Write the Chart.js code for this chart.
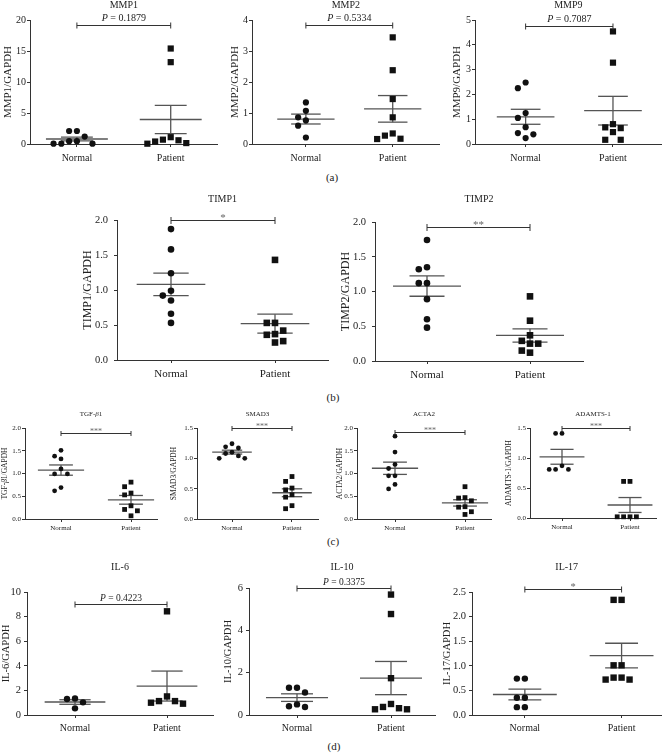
<!DOCTYPE html>
<html>
<head>
<meta charset="utf-8">
<script src="https://cdn.jsdelivr.net/npm/chart.js@4/dist/chart.umd.min.js"></script>
<style>
  body { margin: 0; background: #fff; width: 666px; height: 753px; position: relative; overflow: hidden;
         font-family: "Liberation Serif", "Times New Roman", serif; }
  canvas { position: absolute; }
  .lab { position: absolute; font-size: 11px; color: #222; transform: translate(-50%, -50%); }
</style>
</head>
<body>
<div class="lab" style="left:332px;top:177px">(a)</div>
<div class="lab" style="left:333px;top:397px">(b)</div>
<div class="lab" style="left:333px;top:541px">(c)</div>
<div class="lab" style="left:334px;top:746px">(d)</div>
<script>
const categories = ['Normal', 'Patient'];

// values (relative expression / GAPDH)
const mmp1Normal = [2.1, 2.1, 1.2, 0.45, 0.45, 0.05, 0.05, 0.05];
const mmp1Patient = [15.4, 13.2, 1.1, 0.7, 0.6, 0.4, 0.15, 0.05];
const mmp2Normal = [1.34, 1.07, 0.86, 0.76, 0.59, 0.21];
const mmp2Patient = [3.44, 2.38, 1.45, 0.86, 0.34, 0.27, 0.17, 0.16];
const mmp9Normal = [2.48, 2.25, 1.25, 1.05, 0.68, 0.44, 0.39, 0.24];
const mmp9Patient = [4.54, 3.28, 0.80, 0.67, 0.64, 0.48, 0.17, 0.17];
const timp1Normal = [1.87, 1.58, 1.24, 0.99, 0.92, 0.85, 0.66, 0.53];
const timp1Patient = [1.43, 0.53, 0.53, 0.42, 0.37, 0.36, 0.27, 0.25];
const timp2Normal = [1.74, 1.35, 1.32, 1.12, 1.12, 0.89, 0.60, 0.48];
const timp2Patient = [0.93, 0.58, 0.37, 0.29, 0.25, 0.25, 0.15, 0.12];
const tgfNormal = [1.51, 1.38, 1.32, 1.10, 0.99, 0.99, 0.69, 0.62];
const tgfPatient = [0.81, 0.71, 0.57, 0.53, 0.29, 0.21, 0.18, 0.07];
const smad3Normal = [1.24, 1.19, 1.17, 1.10, 1.08, 1.04, 1.00, 1.00];
const smad3Patient = [0.70, 0.62, 0.51, 0.48, 0.40, 0.36, 0.22, 0.17];
const acta2Normal = [1.82, 1.47, 1.20, 1.11, 0.95, 0.95, 0.76, 0.66];
const acta2Patient = [0.71, 0.47, 0.46, 0.40, 0.27, 0.26, 0.16, 0.10];
const adamtsNormal = [1.41, 1.41, 0.87, 0.81, 0.81, 0.81];
const adamtsPatient = [0.61, 0.61, 0.02, 0.02, 0.02, 0.02];
const il6Normal = [1.35, 1.30, 1.03, 0.54];
const il6Patient = [8.43, 1.51, 1.13, 1.13, 1.00, 0.92];
const il10Normal = [1.29, 1.29, 1.06, 0.50, 0.41, 0.38];
const il10Patient = [5.69, 4.77, 1.74, 0.52, 0.38, 0.32, 0.27, 0.27];
const il17Normal = [0.74, 0.74, 0.35, 0.35, 0.16, 0.16];
const il17Patient = [2.34, 2.34, 1.01, 1.01, 0.76, 0.76, 0.72, 0.72];

// y tick labels
const mmp1Ticks = [0, 5, 10, 15, 20];
const mmp2Ticks = [0, 1, 2, 3, 4];
const mmp9Ticks = [0, 1, 2, 3, 4, 5];
const timpTicks = [0, 0.5, 1, 1.5, 2];
const ctgf2Ticks = [0, 0.5, 1, 1.5, 2];
const c15Ticks = [0, 0.5, 1, 1.5];
const il6Ticks = [0, 2, 4, 6, 8, 10];
const il10Ticks = [0, 2, 4, 6];
const il17Ticks = [0, 0.5, 1, 1.5, 2, 2.5];

const FONT = '"Liberation Serif", "Times New Roman", serif';

const rows = {
  a: { top: 0, bottom: 166, r: 3.1, tick: 10, cat: 10, title: 10, yt: 11, stat: 10, titleY: 8, cap: 3, pGap: 5, tickPad: 1, catPad: 5 },
  b: { top: 188, bottom: 385, r: 3.3, tick: 10.5, cat: 11, title: 10, yt: 12, stat: 10, titleY: 202, cap: 3.5, pGap: 5, tickPad: 6, catPad: 5 },
  c: { top: 405, bottom: 535, r: 2.4, tick: 7, cat: 7, title: 7, yt: 7.5, stat: 7, titleY: 416, cap: 2.5, pGap: 3, tickPad: 1, catPad: 2 },
  d: { top: 557, bottom: 737, r: 3.2, tick: 10.5, cat: 10, title: 10, yt: 10.5, stat: 9.5, titleY: 570, cap: 3, pGap: 4, tickPad: 3, catPad: 4 },
};

const panels = [
  { row: 'a', box: [0, 222], L: 30, R: 218, T: 20, B: 144, N: 77, P: 171, data: [mmp1Normal, mmp1Patient], ticks: mmp1Ticks, dec: 0,
    title: 'MMP1', yTitle: 'MMP1/GAPDH', yTitleX: 8, stat: '~P~ = 0.1879', bracket: 19.2 },
  { row: 'a', box: [222, 444], L: 252, R: 440, T: 20, B: 144, N: 306, P: 393, data: [mmp2Normal, mmp2Patient], ticks: mmp2Ticks, dec: 0,
    title: 'MMP2', yTitle: 'MMP2/GAPDH', yTitleX: 235, stat: '~P~ = 0.5334', bracket: 3.84 },
  { row: 'a', box: [444, 666], L: 475, R: 663, T: 20, B: 144, N: 526, P: 614, data: [mmp9Normal, mmp9Patient], ticks: mmp9Ticks, dec: 0,
    title: 'MMP9', yTitle: 'MMP9/GAPDH', yTitleX: 457, stat: '~P~ = 0.7087', bracket: 4.76 },
  { row: 'b', box: [70, 333], L: 117, R: 328, T: 220, B: 360, N: 171, P: 275, data: [timp1Normal, timp1Patient], ticks: timpTicks, dec: 1,
    title: 'TIMP1', yTitle: 'TIMP1/GAPDH', yTitleX: 88, stat: '*', bracket: 2.0 },
  { row: 'b', box: [333, 600], L: 375, R: 583, T: 222, B: 361, N: 427, P: 530, data: [timp2Normal, timp2Patient], ticks: timpTicks, dec: 1,
    title: 'TIMP2', yTitle: 'TIMP2/GAPDH', yTitleX: 346, stat: '**', bracket: 1.93 },
  { row: 'c', box: [0, 166], L: 25, R: 157, T: 428, B: 519, N: 61, P: 131, data: [tgfNormal, tgfPatient], ticks: ctgf2Ticks, dec: 1,
    title: 'TGF-~β~1', yTitle: 'TGF-~β~1/GAPDH', yTitleX: 5, stat: '***', bracket: 1.88 },
  { row: 'c', box: [166, 333], L: 197, R: 318, T: 428, B: 519, N: 232, P: 292, data: [smad3Normal, smad3Patient], ticks: c15Ticks, dec: 1,
    title: 'SMAD3', yTitle: 'SMAD3/GAPDH', yTitleX: 174, stat: '***', bracket: 1.5 },
  { row: 'c', box: [333, 500], L: 357, R: 491, T: 428, B: 519, N: 395, P: 465, data: [acta2Normal, acta2Patient], ticks: ctgf2Ticks, dec: 1,
    title: 'ACTA2', yTitle: 'ACTA2/GAPDH', yTitleX: 340, stat: '***', bracket: 1.92 },
  { row: 'c', box: [500, 666], L: 530, R: 656, T: 428, B: 518, N: 562, P: 630, data: [adamtsNormal, adamtsPatient], ticks: c15Ticks, dec: 1,
    title: 'ADAMTS-1', yTitle: 'ADAMTS-1/GAPDH', yTitleX: 509, stat: '***', bracket: 1.5 },
  { row: 'd', box: [0, 222], L: 27, R: 213, T: 592, B: 715, N: 75, P: 167, data: [il6Normal, il6Patient], ticks: il6Ticks, dec: 0,
    title: 'IL-6', yTitle: 'IL-6/GAPDH', yTitleX: 6, stat: '~P~ = 0.4223', bracket: 9.0 },
  { row: 'd', box: [222, 444], L: 249, R: 435, T: 588, B: 715, N: 297, P: 391, data: [il10Normal, il10Patient], ticks: il10Ticks, dec: 0,
    title: 'IL-10', yTitle: 'IL-10/GAPDH', yTitleX: 228, stat: '~P~ = 0.3375', bracket: 6.0 },
  { row: 'd', box: [438, 666], L: 472, R: 662, T: 592, B: 715, N: 525, P: 622, data: [il17Normal, il17Patient], ticks: il17Ticks, dec: 1,
    title: 'IL-17', yTitle: 'IL-17/GAPDH', yTitleX: 447, stat: '*', bracket: 2.56 },
];

// text with ~italic~ parts
function richText(ctx, text, x, y, size, color) {
  const parts = text.split('~');
  const fonts = parts.map((t, i) => (i % 2 ? 'italic ' : '') + size + 'px ' + FONT);
  const widths = parts.map((t, i) => { ctx.font = fonts[i]; return ctx.measureText(t).width; });
  let cx = x - widths.reduce((a, b) => a + b, 0) / 2;
  ctx.fillStyle = color;
  ctx.textAlign = 'left';
  parts.forEach((t, i) => { ctx.font = fonts[i]; ctx.fillText(t, cx, y); cx += widths[i]; });
}

const panelText = {
  id: 'panelText',
  afterDraw(chart, args, o) {
    const ctx = chart.ctx, xs = chart.scales.x, ys = chart.scales.y, ca = chart.chartArea;
    ctx.save();
    ctx.textBaseline = 'alphabetic';
    richText(ctx, o.title, (ca.left + ca.right) / 2, o.titleY, o.titleSize, '#222');

    ctx.save();
    ctx.translate(o.yTitleX, (ca.top + ca.bottom) / 2);
    ctx.rotate(-Math.PI / 2);
    ctx.textBaseline = 'middle';
    richText(ctx, o.yTitle, 0, 0, o.yTitleSize, '#222');
    ctx.restore();

    const x1 = xs.getPixelForValue(1), x2 = xs.getPixelForValue(2);
    const yb = Math.round(ys.getPixelForValue(o.bracket)) + 0.5;
    ctx.strokeStyle = '#333';
    ctx.lineWidth = 1;
    ctx.beginPath();
    ctx.moveTo(x1, yb); ctx.lineTo(x2, yb);
    ctx.moveTo(x1, yb - o.cap); ctx.lineTo(x1, yb + o.cap);
    ctx.moveTo(x2, yb - o.cap); ctx.lineTo(x2, yb + o.cap);
    ctx.stroke();
    const isP = o.stat.indexOf('P') >= 0;
    ctx.textBaseline = 'alphabetic';
    richText(ctx, o.stat, (x1 + x2) / 2, yb - (isP ? o.pGap : 0), isP ? o.statSize : o.statSize + 1, isP ? '#222' : '#666');
    ctx.restore();
  }
};

// beeswarm offsets in px, columns tried 0, -1, +1, -2, +2 ...
function swarm(values, pxPerUnit, s) {
  const order = values.map((v, i) => i).sort((a, b) => values[b] - values[a]);
  const placed = [];
  const off = new Array(values.length);
  order.forEach(i => {
    const yp = values[i] * pxPerUnit;
    for (let k = 0; k < 40; k++) {
      const c = k === 0 ? 0 : (k % 2 ? -Math.ceil(k / 2) : k / 2);
      if (!placed.some(q => q.c === c && Math.abs(q.y - yp) < s)) {
        placed.push({ c, y: yp });
        off[i] = c * s;
        break;
      }
    }
  });
  return off;
}

function meanSem(v) {
  const n = v.length;
  const m = v.reduce((a, b) => a + b, 0) / n;
  const sd = Math.sqrt(v.reduce((a, b) => a + (b - m) * (b - m), 0) / (n - 1));
  return [m, sd / Math.sqrt(n)];
}

function lineSet(pts) {
  return { type: 'line', data: pts, showLine: true, borderColor: '#555', borderWidth: 1.3,
           pointRadius: 0, fill: false, order: 2, clip: false };
}

panels.forEach(p => {
  const row = rows[p.row];
  const canvas = document.createElement('canvas');
  canvas.width = p.box[1] - p.box[0];
  canvas.height = row.bottom - row.top;
  canvas.style.left = p.box[0] + 'px';
  canvas.style.top = row.top + 'px';
  document.body.appendChild(canvas);

  const step = p.P - p.N;
  const xmin = 1 - (p.N - p.L) / step;
  const xmax = 2 + (p.R - p.P) / step;
  const ymin = p.ticks[0], ymax = p.ticks[p.ticks.length - 1];
  const yPx = (p.B - p.T) / (ymax - ymin);
  const spacing = 2 * row.r + 1.6;

  const datasets = [];
  p.data.forEach((vals, gi) => {
    const xc = gi + 1;
    const off = swarm(vals, yPx, spacing);
    datasets.push({
      data: vals.map((v, i) => ({ x: xc + off[i] / step, y: v })),
      pointStyle: gi === 0 ? 'circle' : 'rect',
      pointRadius: gi === 0 ? row.r : row.r * Math.SQRT2,
      backgroundColor: '#111', borderWidth: 0, order: 1, clip: false,
    });
    const [m, se] = meanSem(vals);
    datasets.push(lineSet([{ x: xc - 0.33, y: m }, { x: xc + 0.33, y: m }]));
    datasets.push(lineSet([{ x: xc - 0.17, y: m + se }, { x: xc + 0.17, y: m + se }]));
    datasets.push(lineSet([{ x: xc - 0.17, y: m - se }, { x: xc + 0.17, y: m - se }]));
    datasets.push(lineSet([{ x: xc, y: m - se }, { x: xc, y: m + se }]));
  });

  new Chart(canvas, {
    type: 'scatter',
    data: { datasets },
    options: {
      responsive: false,
      animation: false,
      events: [],
      layout: { padding: { left: 0, top: p.T - row.top, right: p.box[1] - p.R, bottom: 0 } },
      plugins: {
        legend: { display: false },
        tooltip: { enabled: false },
        panelText: {
          title: p.title, titleY: row.titleY - row.top, titleSize: row.title,
          yTitle: p.yTitle, yTitleX: p.yTitleX - p.box[0], yTitleSize: row.yt,
          stat: p.stat, statSize: row.stat, bracket: p.bracket, cap: row.cap, pGap: row.pGap,
        },
      },
      scales: {
        x: {
          type: 'linear', min: xmin, max: xmax,
          afterBuildTicks: s => { s.ticks = [{ value: 1 }, { value: 2 }]; },
          afterFit: s => { s.height = row.bottom - p.B; },
          ticks: { callback: v => categories[v - 1], font: { family: FONT, size: row.cat }, color: '#222',
                   padding: row.catPad, maxRotation: 0, autoSkip: false },
          grid: { display: true, drawOnChartArea: false, drawTicks: true, tickLength: 3, color: '#333' },
          border: { display: true, color: '#333', width: 1 },
        },
        y: {
          type: 'linear', min: ymin, max: ymax,
          afterBuildTicks: s => { s.ticks = p.ticks.map(v => ({ value: v })); },
          afterFit: s => { s.width = p.L - p.box[0]; },
          ticks: { callback: v => v.toFixed(p.dec), font: { family: FONT, size: row.tick }, color: '#222',
                   padding: row.tickPad, autoSkip: false },
          grid: { display: true, drawOnChartArea: false, drawTicks: true, tickLength: 3, color: '#333' },
          border: { display: true, color: '#333', width: 1 },
        },
      },
    },
    plugins: [panelText],
  });
});
</script>
</body>
</html>
